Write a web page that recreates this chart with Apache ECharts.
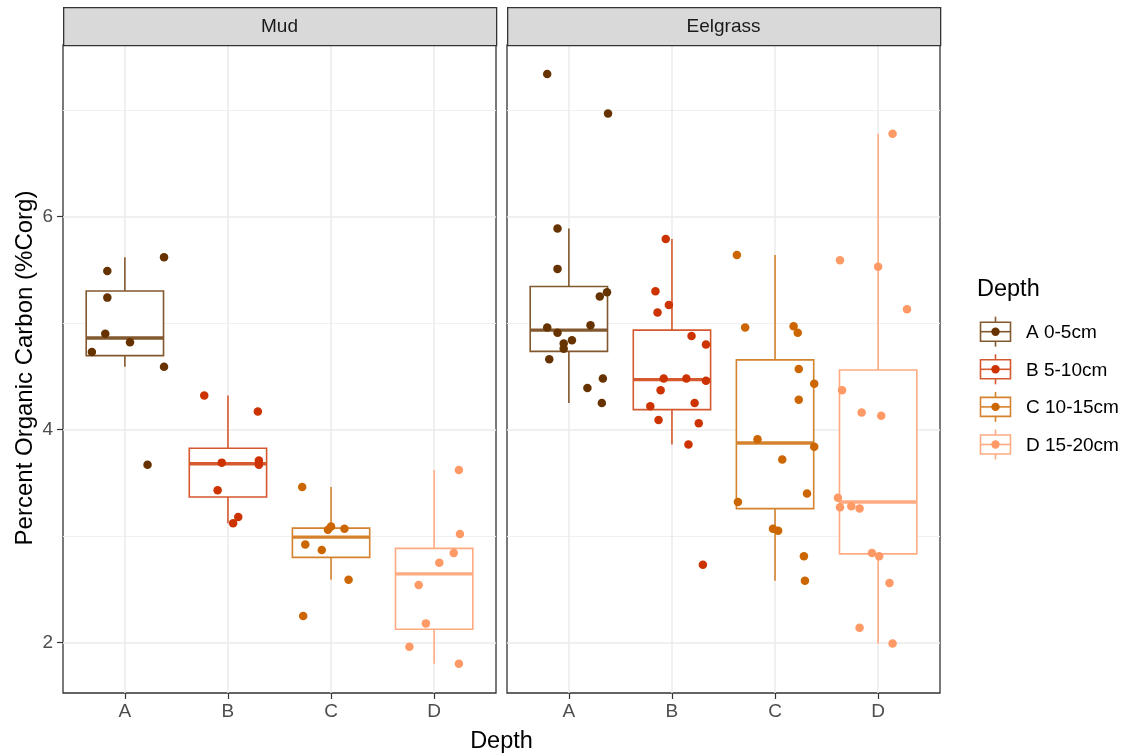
<!DOCTYPE html>
<html><head><meta charset="utf-8">
<script src="https://cdn.jsdelivr.net/npm/echarts@6/dist/echarts.min.js"></script>
<style>html,body{margin:0;padding:0;background:#fff}#chart{width:1130px;height:755px}</style>
</head><body><div id="chart"></div>
<script>
// ---------- data ----------
const habitats = ['Mud', 'Eelgrass'];
const depthTicks = ['A', 'B', 'C', 'D'];
const depthLabels = ['A 0-5cm', 'B 5-10cm', 'C 10-15cm', 'D 15-20cm'];
const yTicks = [2, 4, 6];
const yMinorTicks = [3, 5, 7];
const xTitle = 'Depth';
const yTitle = 'Percent Organic Carbon (%Corg)';
const legendTitle = 'Depth';

// values (%Corg) per habitat and depth
const mudA = [5.62, 5.49, 5.24, 4.90, 4.82, 4.73, 4.59, 3.67];
const mudB = [4.32, 4.17, 3.71, 3.69, 3.67, 3.43, 3.18, 3.12];
const mudC = [3.46, 3.09, 3.07, 3.06, 2.92, 2.87, 2.59, 2.25];
const mudD = [3.62, 3.02, 2.84, 2.75, 2.54, 2.18, 1.96, 1.80];
const eelA = [7.34, 6.97, 5.89, 5.51, 5.29, 5.25, 4.98, 4.96, 4.91, 4.84, 4.81, 4.76, 4.66, 4.48, 4.39, 4.25];
const eelB = [5.79, 5.30, 5.17, 5.10, 4.88, 4.80, 4.48, 4.48, 4.46, 4.37, 4.25, 4.22, 4.09, 4.06, 3.86, 2.73];
const eelC = [5.64, 4.97, 4.96, 4.91, 4.57, 4.43, 4.28, 3.91, 3.84, 3.72, 3.40, 3.32, 3.07, 3.05, 2.81, 2.58];
const eelD = [6.78, 5.59, 5.53, 5.13, 4.37, 4.16, 4.13, 3.36, 3.27, 3.28, 3.26, 2.84, 2.81, 2.56, 2.14, 1.99];

// horizontal jitter of each point (in category units)
const mudAJit = [0.38, -0.17, -0.17, -0.19, 0.05, -0.32, 0.38, 0.22];
const mudBJit = [-0.23, 0.29, 0.30, -0.06, 0.30, -0.10, 0.10, 0.05];
const mudCJit = [-0.28, 0.00, 0.13, -0.03, -0.25, -0.09, 0.17, -0.27];
const mudDJit = [0.24, 0.25, 0.19, 0.05, -0.15, -0.08, -0.24, 0.24];
const eelAJit = [-0.21, 0.38, -0.11, -0.11, 0.37, 0.30, 0.21, -0.21, -0.11, 0.03, -0.05, -0.05, -0.19, 0.33, 0.18, 0.32];
const eelBJit = [-0.06, -0.16, -0.03, -0.14, 0.19, 0.33, -0.08, 0.14, 0.33, -0.11, 0.22, -0.21, -0.13, 0.26, 0.16, 0.30];
const eelCJit = [-0.37, 0.18, -0.29, 0.22, 0.23, 0.38, 0.23, -0.17, 0.38, 0.07, 0.31, -0.36, -0.02, 0.03, 0.28, 0.29];
const eelDJit = [0.14, -0.37, 0.00, 0.28, -0.35, -0.16, 0.03, -0.39, -0.37, -0.26, -0.18, -0.06, 0.01, 0.11, -0.18, 0.14];

// ---------- styles ----------
const FONT = '"Liberation Sans", Arial, Helvetica, sans-serif';
const pointColors = ['#663300', '#CC3300', '#CC6600', '#FF9966'];
function mixWhite(hex, a) {
  const n = parseInt(hex.slice(1), 16);
  const r = (n >> 16) & 255, g = (n >> 8) & 255, b = n & 255;
  const f = c => Math.round(c * a + 255 * (1 - a));
  return 'rgb(' + f(r) + ',' + f(g) + ',' + f(b) + ')';
}
const boxColors = pointColors.map(c => mixWhite(c, 0.82));

const values = [[mudA, mudB, mudC, mudD], [eelA, eelB, eelC, eelD]];
const jitters = [[mudAJit, mudBJit, mudCJit, mudDJit], [eelAJit, eelBJit, eelCJit, eelDJit]];

// ggplot-style boxplot stats (type 7 quantiles, 1.5 IQR whiskers)
function quantile(s, p) {
  const h = (s.length - 1) * p, lo = Math.floor(h);
  const hiV = s[Math.min(lo + 1, s.length - 1)];
  return s[lo] + (h - lo) * (hiV - s[lo]);
}
function boxStats(vals) {
  const s = vals.slice().sort((a, b) => a - b);
  const q1 = quantile(s, 0.25), med = quantile(s, 0.5), q3 = quantile(s, 0.75);
  const iqr = q3 - q1;
  const lo = Math.min(...s.filter(v => v >= q1 - 1.5 * iqr));
  const hi = Math.max(...s.filter(v => v <= q3 + 1.5 * iqr));
  return [q1, med, q3, lo, hi];
}

// ---------- layout ----------
const panelTop = 45, panelH = 648, panelW = 433;
const panelLefts = [63, 507];
const yMin = 1.526, yMax = 7.613;

const grids = [], xAxes = [], yAxes = [], series = [];
habitats.forEach((hab, h) => {
  grids.push({ left: panelLefts[h], top: panelTop, width: panelW, height: panelH,
    show: true, borderColor: '#333333', borderWidth: 1.3, backgroundColor: '#fff', containLabel: false });
  xAxes.push({ type: 'value', gridIndex: h, min: 0.4, max: 4.6,
    axisLine: { show: false },
    axisTick: { show: true, customValues: [1, 2, 3, 4], length: 6, lineStyle: { color: '#333333', width: 1.2 } },
    axisLabel: { show: true, customValues: [1, 2, 3, 4], formatter: v => depthTicks[Math.round(v) - 1],
      fontFamily: FONT, fontSize: 19, color: '#4D4D4D', margin: 9 },
    splitLine: { show: true, lineStyle: { color: '#EBEBEB', width: 1.5 } } });
  // major y axis (ticks, labels, major grid)
  yAxes.push({ type: 'value', gridIndex: h, min: yMin, max: yMax,
    axisLine: { show: false },
    axisTick: { show: h === 0, customValues: yTicks, length: 6, lineStyle: { color: '#333333', width: 1.2 } },
    axisLabel: { show: h === 0, customValues: yTicks, fontFamily: FONT, fontSize: 19, color: '#4D4D4D', margin: 10 },
    splitLine: { show: true, lineStyle: { color: '#EBEBEB', width: 1.5 } } });
  // minor y grid
  yAxes.push({ type: 'value', gridIndex: h, min: yMin, max: yMax,
    axisLine: { show: false },
    axisTick: { show: false, customValues: yMinorTicks },
    axisLabel: { show: false, customValues: yMinorTicks },
    splitLine: { show: true, lineStyle: { color: '#F0F0F0', width: 1 } } });

  // boxplots via custom series
  const boxData = depthTicks.map((d, i) => [i + 1].concat(boxStats(values[h][i]), [i]));
  series.push({
    type: 'custom', name: hab + ' boxes', xAxisIndex: h, yAxisIndex: 2 * h, z: 2,
    data: boxData, encode: { x: 0, y: [1, 2, 3, 4, 5] }, silent: true,
    renderItem: function (params, api) {
      const x = api.value(0), q1 = api.value(1), med = api.value(2), q3 = api.value(3),
            lo = api.value(4), hi = api.value(5), di = api.value(6);
      const half = api.size([0.75, 0])[0] / 2;
      const pQ1 = api.coord([x, q1]), pQ3 = api.coord([x, q3]), pMed = api.coord([x, med]);
      const pLo = api.coord([x, lo]), pHi = api.coord([x, hi]);
      const col = boxColors[di];
      return { type: 'group', children: [
        { type: 'line', shape: { x1: pHi[0], y1: pHi[1], x2: pQ3[0], y2: pQ3[1] }, style: { stroke: col, lineWidth: 1.6 } },
        { type: 'line', shape: { x1: pQ1[0], y1: pQ1[1], x2: pLo[0], y2: pLo[1] }, style: { stroke: col, lineWidth: 1.6 } },
        { type: 'rect', shape: { x: pQ3[0] - half, y: pQ3[1], width: 2 * half, height: pQ1[1] - pQ3[1] },
          style: { fill: '#ffffff', stroke: col, lineWidth: 1.6 } },
        { type: 'line', shape: { x1: pMed[0] - half, y1: pMed[1], x2: pMed[0] + half, y2: pMed[1] },
          style: { stroke: col, lineWidth: 3.4 } }
      ] };
    }
  });
  // jittered points
  depthTicks.forEach((d, i) => {
    series.push({
      type: 'scatter', name: depthLabels[i], xAxisIndex: h, yAxisIndex: 2 * h, z: 3,
      symbol: 'circle', symbolSize: 8.5,
      itemStyle: { color: pointColors[i], opacity: 1 },
      data: values[h][i].map((v, k) => [i + 1 + jitters[h][i][k], v])
    });
  });
});

// strips, titles and legend as graphic elements
const graphics = [];
habitats.forEach((hab, h) => {
  graphics.push({ type: 'rect', left: panelLefts[h], top: 7, z: 10,
    shape: { width: panelW, height: panelTop - 7 },
    style: { fill: '#D9D9D9', stroke: '#333333', lineWidth: 1.3 } });
  graphics.push({ type: 'text', x: panelLefts[h] + panelW / 2, y: (7 + panelTop) / 2 + 1, z: 11,
    style: { text: hab, fontFamily: FONT, fontSize: 19, fill: '#1A1A1A', align: 'center', verticalAlign: 'middle' } });
});
graphics.push({ type: 'text', x: (panelLefts[0] + panelLefts[1] + panelW) / 2, y: 742, z: 11,
  style: { text: xTitle, fontFamily: FONT, fontSize: 23.5, fill: '#000', align: 'center', verticalAlign: 'middle' } });
graphics.push({ type: 'text', x: 25, y: panelTop + panelH / 2 - 1, rotation: Math.PI / 2, z: 11,
  style: { text: yTitle, fontFamily: FONT, fontSize: 24, fill: '#000', align: 'center', verticalAlign: 'middle' } });
graphics.push({ type: 'text', x: 977, y: 290, z: 11,
  style: { text: legendTitle, fontFamily: FONT, fontSize: 23.5, fill: '#000', align: 'left', verticalAlign: 'middle' } });
depthLabels.forEach((lab, i) => {
  const cy = 331.7 + i * 37.6, cx = 995.5;
  graphics.push({ type: 'group', z: 11, children: [
    { type: 'line', shape: { x1: cx, y1: cy - 15, x2: cx, y2: cy + 15 }, style: { stroke: boxColors[i], lineWidth: 1.6 } },
    { type: 'rect', shape: { x: cx - 15, y: cy - 9.5, width: 30, height: 19 }, style: { fill: '#fff', stroke: boxColors[i], lineWidth: 1.6 } },
    { type: 'line', shape: { x1: cx - 15, y1: cy, x2: cx + 15, y2: cy }, style: { stroke: boxColors[i], lineWidth: 1.6 } },
    { type: 'circle', shape: { cx: cx, cy: cy, r: 4.2 }, style: { fill: pointColors[i] } },
    { type: 'text', x: 1026, y: cy + 1, style: { text: lab, fontFamily: FONT, fontSize: 19, fill: '#000', align: 'left', verticalAlign: 'middle' } }
  ] });
});

const chart = echarts.init(document.getElementById('chart'), null, { renderer: 'canvas' });
chart.setOption({
  animation: false,
  backgroundColor: '#ffffff',
  grid: grids, xAxis: xAxes, yAxis: yAxes, series: series,
  graphic: graphics
});
</script>
</body></html>
